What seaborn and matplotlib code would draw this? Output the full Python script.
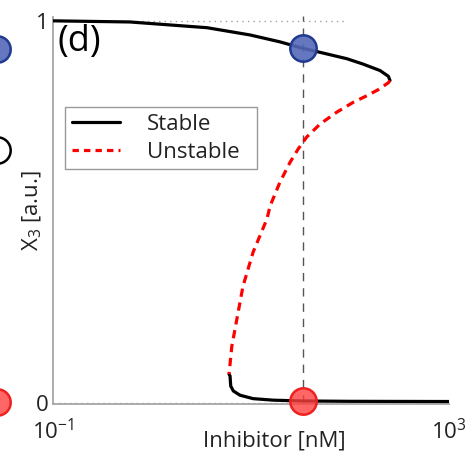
import numpy as np
import pandas as pd
import matplotlib
matplotlib.use("Agg")
import matplotlib.pyplot as plt
import seaborn as sns
from matplotlib.lines import Line2D
from matplotlib.ticker import LogLocator, FixedLocator, NullFormatter, FixedFormatter

# ---- data ----
upper_x = [0.1, 0.6, 3.6, 9.8, 19.6, 33.5, 42.3, 92.7, 135, 201, 244, 253.6]
upper_y = [1.0, 0.997, 0.982, 0.963, 0.945, 0.928, 0.922, 0.901, 0.887, 0.870, 0.855, 0.844]

unstable_x = [253.6, 243.8, 193, 147.5, 108, 73.4, 49.8, 36.5, 30.0, 24.8, 19.6, 15.6, 14.5,
              10.5, 8.3, 7.2, 6.4, 6.0]
unstable_y = [0.844, 0.838, 0.820, 0.804, 0.787, 0.761, 0.730, 0.696, 0.665, 0.630, 0.578,
              0.516, 0.482, 0.395, 0.306, 0.220, 0.149, 0.076]

lower_x = [6.0, 6.14, 6.24, 6.63, 7.74, 10.5, 16.8, 31.3, 100, 1000]
lower_y = [0.076, 0.0715, 0.045, 0.032, 0.021, 0.012, 0.008, 0.006, 0.005, 0.0045]

inhibitor_dose = 33.5
state_high = 0.928
state_low = 0.005
dotted_end = 90

ytick_vals = [0, 0.2, 0.4, 0.6, 0.8, 1.0]
ytick_labels = ["0", "", "", "", "", "1"]

# ---- style ----
sns.set_style("white")
plt.rcParams['font.family'] = ['Open Sans', 'DejaVu Sans']
plt.rcParams['mathtext.fontset'] = 'custom'
plt.rcParams['mathtext.rm'] = 'Open Sans'
plt.rcParams['mathtext.it'] = 'Open Sans'
plt.rcParams['mathtext.bf'] = 'Open Sans'

fig = plt.figure(figsize=(4.69, 4.53), dpi=100)
ax = fig.add_axes([53/469, (453-404)/453, 396/469, 387/453])

lw = 2.3
up = pd.DataFrame({"x": upper_x, "y": upper_y})
lo = pd.DataFrame({"x": lower_x, "y": lower_y})
un = pd.DataFrame({"x": unstable_x, "y": unstable_y})

sns.lineplot(data=up, x="x", y="y", sort=False, estimator=None, color="black", lw=lw, ax=ax, zorder=3)
sns.lineplot(data=lo, x="x", y="y", sort=False, estimator=None, color="black", lw=lw, ax=ax, zorder=3)
sns.lineplot(data=un, x="x", y="y", sort=False, estimator=None, color="red", lw=lw, ax=ax,
             zorder=3)
ax.lines[-1].set_dashes((2.6, 1.8))
for ln in ax.lines:
    ln.set_solid_joinstyle("round")
    ln.set_dash_joinstyle("round")

# reference lines
ax.plot([0.1, dotted_end], [1, 1], color="#a0a0a0", lw=1, ls=(0, (1, 3)), zorder=1)
ax.plot([0.1, dotted_end], [0, 0], color="#a0a0a0", lw=1, ls=(0, (1, 3)), zorder=1)
ax.plot([inhibitor_dose, inhibitor_dose], [0, 1.013], color="#555555", lw=1,
        ls=(0, (6, 5)), zorder=2, clip_on=False)

# state markers
ax.plot([inhibitor_dose], [state_high], marker="o", ms=19, mfc=(0.33, 0.41, 0.72, 0.9),
        mec="#1f3a8f", mew=1.8, ls="none", zorder=5)
ax.plot([inhibitor_dose], [state_low], marker="o", ms=19, mfc=(1.0, 0.25, 0.25, 0.8),
        mec="#ee2020", mew=1.8, ls="none", zorder=5, clip_on=False)

ax.set_xscale("log")
ax.set_xlim(0.1, 1000)
ax.set_ylim(-0.002, 1.01)

ax.xaxis.set_major_locator(FixedLocator([0.1, 1000]))
ax.xaxis.set_minor_locator(LogLocator(base=10, subs=np.arange(1, 10), numticks=20))
ax.xaxis.set_minor_formatter(NullFormatter())
ax.set_xticklabels([r"$10^{-1}$", r"$10^{3}$"])
ax.yaxis.set_major_locator(FixedLocator(ytick_vals))
ax.yaxis.set_major_formatter(FixedFormatter(ytick_labels))

for s in ["top", "right"]:
    ax.spines[s].set_visible(False)
for s in ["left", "bottom"]:
    ax.spines[s].set_color("#a6a6a6")
    ax.spines[s].set_linewidth(1.3)

ax.tick_params(axis="both", which="both", direction="in", colors="#a6a6a6",
               labelcolor="#222222", labelsize=16)
ax.tick_params(axis="y", which="major", length=4, width=1, pad=3)
ax.tick_params(axis="x", which="major", length=4, width=1, pad=11)
ax.tick_params(axis="x", which="minor", length=2.5, width=0.8)

ax.set_xlabel("Inhibitor [nM]", fontsize=16, color="#222222")
ax.set_ylabel(r"X$_{3}$ [a.u.]", fontsize=16, color="#222222")
ax.xaxis.set_label_coords(0.558, -0.068)
ax.yaxis.set_label_coords(-0.023, 0.5)

ax.text(0.012, 0.982, "(d)", transform=ax.transAxes, fontsize=26, va="top", ha="left",
        color="black")

handles = [Line2D([], [], color="black", lw=lw),
           Line2D([], [], color="red", lw=lw, dashes=(2.0, 1.6))]
leg = ax.legend(handles, ["Stable", "Unstable"], loc="upper left",
                bbox_to_anchor=(0.030, 0.604, 0.485, 0.163), mode="expand",
                fontsize=16, frameon=True, fancybox=False,
                handlelength=2.2, handletextpad=1.2, labelspacing=0.3, borderpad=0.3,
                borderaxespad=0)
leg.get_frame().set_edgecolor("#808080")
leg.get_frame().set_linewidth(1.0)
for t in leg.get_texts():
    t.set_color("#222222")

# partial markers from the neighbouring panel at the left edge
ov = fig.add_axes([0, 0, 1, 1], zorder=-1)
ov.set_xlim(0, 469)
ov.set_ylim(453, 0)
ov.axis("off")
ov.plot([-3], [49], marker="o", ms=19, mfc=(0.33, 0.41, 0.72, 0.9), mec="#1f3a8f", mew=1.8, ls="none")
ov.plot([-3], [150], marker="o", ms=19, mfc="white", mec="black", mew=1.8, ls="none")
ov.plot([-3], [402], marker="o", ms=19, mfc=(1.0, 0.25, 0.25, 0.8), mec="#ee2020", mew=1.8, ls="none")

fig.savefig("out.png", dpi=100)
